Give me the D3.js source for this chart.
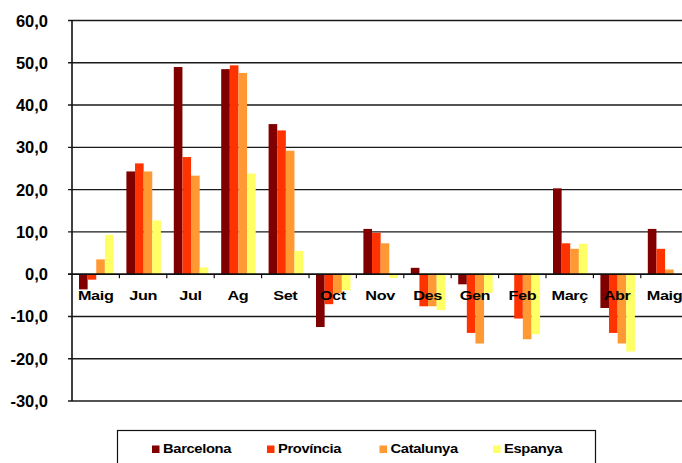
<!DOCTYPE html>
<html>
<head>
<meta charset="utf-8">
<script src="https://cdn.jsdelivr.net/npm/d3@7"></script>
<style>
  body { margin: 0; background: #fff; }
  text { font-family: Arial, "Liberation Sans", sans-serif; font-weight: bold; fill: #000; }
</style>
</head>
<body>
<script>
let width = 682
let height = 463

let months = ['Maig', 'Jun', 'Jul', 'Ag', 'Set', 'Oct', 'Nov', 'Des', 'Gen', 'Feb', 'Març', 'Abr', 'Maig ']
let seriesNames = ['Barcelona', 'Província', 'Catalunya', 'Espanya']
let colors = ['#800000', '#ff3300', '#ff9933', '#ffff66']

let barcelona = [-3.6, 24.3, 49.0, 48.5, 35.5, -12.5, 10.7, 1.5, -2.4, -0.2, 20.3, -8.0, 10.7]
let provincia = [-1.3, 26.2, 27.7, 49.4, 34.0, -7.1, 9.8, -7.6, -13.9, -10.5, 7.3, -13.9, 6.0]
let catalunya = [3.5, 24.3, 23.3, 47.6, 29.2, -4.5, 7.3, -7.6, -16.4, -15.4, 6.0, -16.4, 1.1]
let espanya = [9.3, 12.7, 1.6, 23.8, 5.5, -3.8, -0.9, -8.5, -4.4, -14.2, 7.2, -18.3, 0.0]

let yTicks = [60, 50, 40, 30, 20, 10, 0, -10, -20, -30]

let allSeries = [barcelona, provincia, catalunya, espanya]

let svg = d3.select('body').append('svg')
  .attr('width', width)
  .attr('height', height)

let x = d3.scaleBand()
  .domain(months)
  .range([72, 72 + 47.4 * months.length])

let x1 = d3.scaleBand()
  .domain(seriesNames)
  .range([7, 41.5])

let y = d3.scaleLinear()
  .domain([-30, 60])
  .range([401, 20.5])

let fmt = v => d3.format('.1f')(v).replace('.', ',').replace('−', '-')

// gridlines
svg.append('g')
  .selectAll('line')
  .data(yTicks.filter(d => d !== 0))
  .join('line')
  .attr('x1', 68)
  .attr('x2', width)
  .attr('y1', d => y(d))
  .attr('y2', d => y(d))
  .style('stroke', '#1a1a1a')
  .style('stroke-width', 1.4)

// bars
let groups = svg.append('g')
  .selectAll('g')
  .data(months)
  .join('g')
  .attr('transform', d => 'translate(' + x(d) + ',0)')

groups.selectAll('rect')
  .data((m, i) => seriesNames.map((s, j) => ({ s: s, v: allSeries[j][i], c: colors[j] })))
  .join('rect')
  .attr('x', d => x1(d.s))
  .attr('width', x1.bandwidth())
  .attr('y', d => y(Math.max(0, d.v)))
  .attr('height', d => Math.abs(y(d.v) - y(0)))
  .style('fill', d => d.c)

// zero axis
svg.append('line')
  .attr('x1', 68)
  .attr('x2', width)
  .attr('y1', y(0))
  .attr('y2', y(0))
  .style('stroke', '#111')
  .style('stroke-width', 1.6)

svg.append('g')
  .selectAll('line')
  .data(months.slice(1))
  .join('line')
  .attr('x1', d => x(d))
  .attr('x2', d => x(d))
  .attr('y1', y(0))
  .attr('y2', y(0) + 4)
  .style('stroke', '#111')
  .style('stroke-width', 1.2)

// y axis
svg.append('line')
  .attr('x1', 72)
  .attr('x2', 72)
  .attr('y1', y(60))
  .attr('y2', y(-30))
  .style('stroke', '#111')
  .style('stroke-width', 1.6)

svg.append('g')
  .selectAll('text')
  .data(yTicks)
  .join('text')
  .attr('x', 48)
  .attr('y', d => y(d) + 6)
  .attr('text-anchor', 'end')
  .style('font-size', '16.5px')
  .text(d => fmt(d))

// month labels
svg.append('g')
  .selectAll('text')
  .data(months)
  .join('text')
  .attr('transform', d => 'translate(' + (x(d) + x.bandwidth() / 2) + ',300) scale(1.25,1)')
  .attr('text-anchor', 'middle')
  .style('font-size', '13px')
  .style('letter-spacing', '-0.3px')
  .text(d => d.trim())

// legend
svg.append('rect')
  .attr('x', 117.5)
  .attr('y', 430.5)
  .attr('width', 478)
  .attr('height', 40)
  .style('fill', 'none')
  .style('stroke', '#111')
  .style('stroke-width', 1.2)

let legendX = [152, 267, 379.5, 493]
let legend = svg.append('g')
  .selectAll('g')
  .data(seriesNames)
  .join('g')
  .attr('transform', (d, i) => 'translate(' + legendX[i] + ',453)')

legend.append('rect')
  .attr('width', 7.5)
  .attr('height', 7.5)
  .attr('y', -7.5)
  .style('fill', (d, i) => colors[i])

legend.append('text')
  .attr('transform', 'translate(11,0) scale(1.18,1)')
  .style('font-size', '12.5px')
  .style('letter-spacing', '-0.3px')
  .text(d => d)
</script>
</body>
</html>
